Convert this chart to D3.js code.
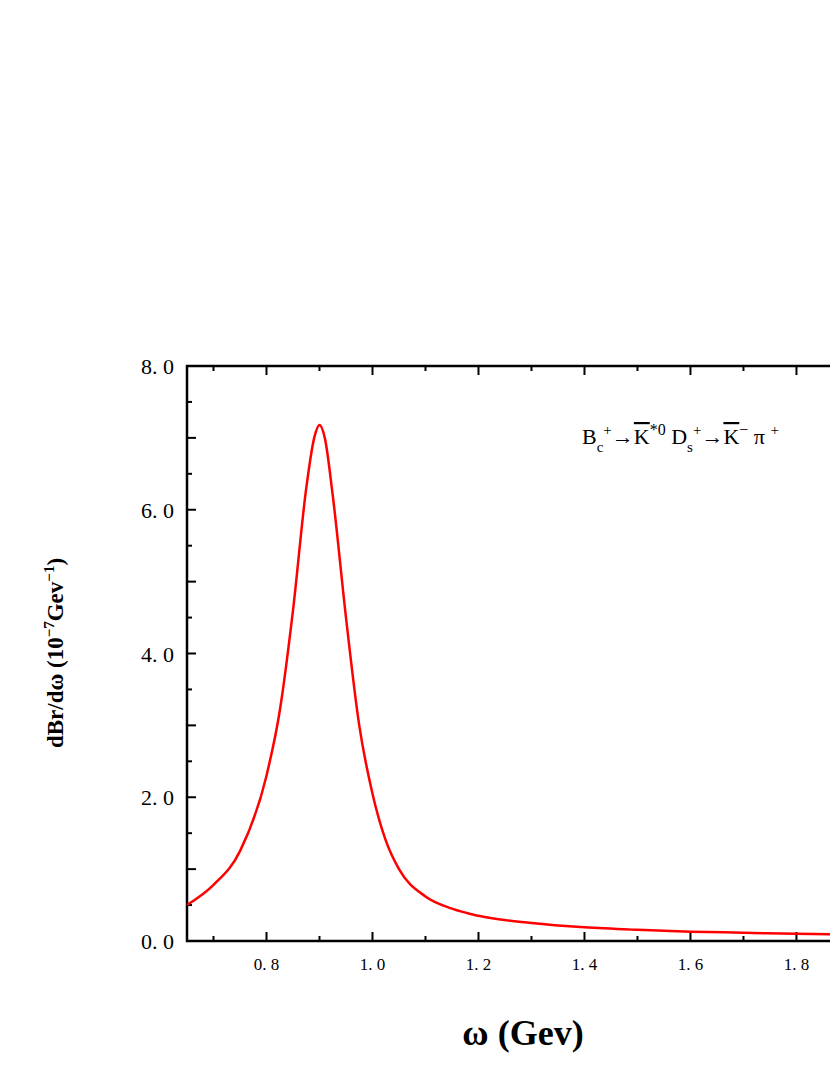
<!DOCTYPE html>
<html><head><meta charset="utf-8">
<script src="https://cdn.jsdelivr.net/npm/d3@7"></script>
<style>body{margin:0;background:#fff;overflow:hidden}text{font-family:"Liberation Serif","DejaVu Serif",serif}</style>
</head><body>
<svg id="c" width="830" height="1075"></svg>
<script>
// omega (GeV) and dBr/domega (1e-7 GeV^-1)
var omega = [0.65,0.70,0.75,0.80,0.825,0.85,0.875,0.89,0.90,0.91,0.925,0.95,0.975,1.0,1.025,1.05,1.1,1.15,1.2,1.3,1.4,1.5,1.6,1.7,1.8,1.92];
var dbr   = [0.5,0.78,1.25,2.3,3.2,4.6,6.3,7.0,7.18,7.0,6.2,4.5,3.0,2.05,1.4,1.0,0.62,0.45,0.35,0.25,0.19,0.155,0.13,0.115,0.1,0.09];
var xTicks = [0.8,1.0,1.2,1.4,1.6,1.8];
var yTicks = [0,2,4,6,8];

var svg = d3.select("#c");
var L = 187, R = 859, T = 366, B = 941;
var x = d3.scaleLinear().domain([0.65,1.918]).range([L,R]);
var y = d3.scaleLinear().domain([0,8]).range([B,T]);

var g = svg.append("g");
// frame
g.append("rect").attr("x",L).attr("y",T).attr("width",R-L).attr("height",B-T)
  .attr("fill","none").attr("stroke","#000").attr("stroke-width",2.5);

// x ticks (inward)
d3.range(0.7,1.95,0.1).forEach(function(v){
  var major = Math.abs(Math.round(v*5)-v*5) < 1e-6;
  var len = major ? 9 : 5;
  g.append("line").attr("x1",x(v)).attr("x2",x(v)).attr("y1",B).attr("y2",B-len).attr("stroke","#000").attr("stroke-width",2);
  g.append("line").attr("x1",x(v)).attr("x2",x(v)).attr("y1",T).attr("y2",T+len).attr("stroke","#000").attr("stroke-width",2);
});
xTicks.forEach(function(v){
  g.append("text").attr("x",x(v)).attr("y",B+29).attr("text-anchor","middle")
    .attr("font-size",17).text(v.toFixed(1).split("").join(" ").replace(" . ",". "));
});
// y ticks
d3.range(0.5,8,0.5).forEach(function(v){
  var len = (v%1===0) ? 9 : 5;
  g.append("line").attr("x1",L).attr("x2",L+len).attr("y1",y(v)).attr("y2",y(v)).attr("stroke","#000").attr("stroke-width",2);
});
yTicks.forEach(function(v){
  g.append("text").attr("x",L-13).attr("y",y(v)+8).attr("text-anchor","end")
    .attr("font-size",22).text(v.toFixed(1).replace("."," . ").replace(" . ",". "));
});

// curve
var line = d3.line().x(function(d,i){return x(omega[i]);}).y(function(d){return y(d);}).curve(d3.curveMonotoneX);
g.append("path").datum(dbr).attr("d",line).attr("fill","none").attr("stroke","#ff0000").attr("stroke-width",2.5);

// axis titles
svg.append("text").attr("x",523).attr("y",1045).attr("text-anchor","middle")
  .attr("font-size",36).attr("font-weight","bold").text("ω (Gev)");
var yl = svg.append("text").attr("transform","translate(63,653) rotate(-90)").attr("text-anchor","middle")
  .attr("font-size",23).attr("font-weight","bold");
yl.append("tspan").text("dBr/dω   (10");
yl.append("tspan").attr("font-size",15).attr("dy",-9).text("−7");
yl.append("tspan").attr("dy",9).text("Gev");
yl.append("tspan").attr("font-size",15).attr("dy",-9).text("−1");
yl.append("tspan").attr("dy",9).text(")");

// annotation
var a = svg.append("text").attr("x",582).attr("y",444).attr("font-size",22);
a.append("tspan").text("B");
a.append("tspan").attr("font-size",15).attr("dy",8).text("c");
a.append("tspan").attr("font-size",15).attr("dy",-17).text("+");
a.append("tspan").attr("dy",9).text("→");
a.append("tspan").attr("text-decoration","overline").text("K");
a.append("tspan").attr("font-size",16).attr("dy",-9).text("*0");
a.append("tspan").attr("dy",9).text("  D");
a.append("tspan").attr("font-size",15).attr("dy",8).text("s");
a.append("tspan").attr("font-size",15).attr("dy",-17).text("+");
a.append("tspan").attr("dy",9).text("→");
a.append("tspan").attr("text-decoration","overline").text("K");
a.append("tspan").attr("font-size",16).attr("dy",-9).text("−");
a.append("tspan").attr("dy",9).text(" π ");
a.append("tspan").attr("font-size",15).attr("dy",-9).text("+");
</script>
</body></html>
